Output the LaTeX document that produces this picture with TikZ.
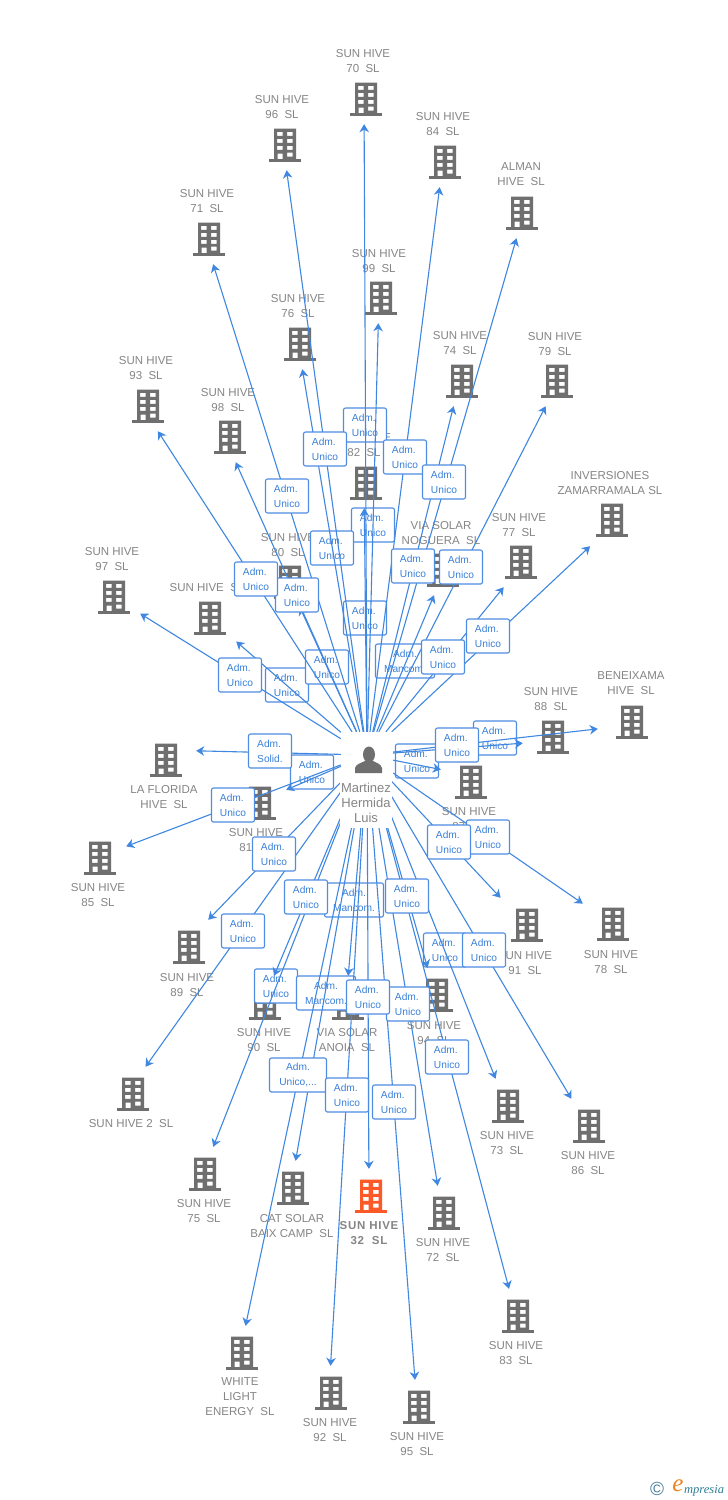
\documentclass[tikz,border=0pt]{standalone}
\usepackage{fontspec}
\setmainfont{Liberation Sans}
\newfontfamily\serifit[Extension=.ttf,ItalicFont=LiberationSerif-Italic]{LiberationSerif-Regular}
\usetikzlibrary{arrows.meta}
\pgfdeclarelayer{bld}\pgfdeclarelayer{lowb}\pgfdeclarelayer{edge}
\pgfsetlayers{bld,lowb,edge,main}
\definecolor{linkblue}{HTML}{3F87E0}
\definecolor{boxline}{HTML}{4F8DE2}
\definecolor{boxtext}{HTML}{3A80DA}
\definecolor{greytext}{HTML}{858585}
\definecolor{bldgrey}{HTML}{6F6F6F}
\definecolor{bldorange}{HTML}{FB5A28}
\definecolor{copyblue}{HTML}{4A7F9A}
\definecolor{emporange}{HTML}{EE8420}
\definecolor{empteal}{HTML}{2F7F96}
\tikzset{
  conn/.style={draw=linkblue,line width=1.1pt,-{Stealth[length=8pt,width=9.5pt,inset=2.5pt]}},
  bldnode/.style={rectangle,minimum width=56pt,minimum height=52pt,inner sep=0pt},
  bldtext/.style={anchor=north,align=center,inner sep=0pt,text=greytext,font=\fontsize{11.5}{15}\selectfont},
  adm/.style={rectangle,rounded corners=2pt,draw=boxline,line width=1.1pt,fill=white,minimum width=43pt,minimum height=34pt,inner sep=0pt,align=left,text=boxtext,font=\fontsize{10.2}{14.7}\selectfont},
  admc/.style={adm,align=center,minimum width=59pt},
  who/.style={rectangle,fill=white,inner sep=0pt,minimum width=52pt},
}
\newcommand\bldgfig[3]{%
  \fill[#3,even odd rule,shift={(#1-11,#2-16.5)}]
    (0,0) rectangle (22,30.7)
    (3,3.3) rectangle (8.5,7.3) (13,3.3) rectangle (18.5,7.3)
    (3,10.4) rectangle (8.5,14.4) (13,10.4) rectangle (18.5,14.4)
    (3,17.3) rectangle (8.5,21.3) (13,17.3) rectangle (18.5,21.3)
    (13,24) rectangle (18.5,28) (3.5,25) rectangle (8.5,30.7);
  \fill[#3,shift={(#1-11,#2-16.5)}] (-5,30.7) rectangle (27,33.2);
}
% name, x, y, label x, label first-line y, label text
\newcommand\bldg[6]{%
  \node[bldnode] (b#1) at (#2-2,#3-1) {};
  \bldgfig{#2}{#3}{bldgrey}
  \node[bldtext] (t#1) at (#4,#5-4.2) {#6};
}
% the same, then the centre of the connector's target and its width
\newcommand\bldgat[9]{%
  \node[bldnode,minimum width=#9pt] (b#1) at (#7,#8) {};
  \bldgfig{#2}{#3}{bldgrey}
  \node[bldtext] (t#1) at (#4,#5-4.2) {#6};
}
\newcommand\lbl[4]{\node[adm] (l#1) at (#2,#3) {#4};}
\newcommand\lblc[4]{\node[admc] (l#1) at (#2,#3) {#4};}
\begin{document}
\begin{tikzpicture}[x=1pt,y=-1pt]
\useasboundingbox (0,0) rectangle (728,1500);
\begin{pgfonlayer}{bld}
\fill[white] (0,0) rectangle (728,1500);
\bldg{70}{366}{99}{363}{53}{SUN HIVE\\70~~SL}
\bldg{96}{285}{145}{282}{99}{SUN HIVE\\96~~SL}
\bldg{84}{445}{162}{443}{116}{SUN HIVE\\84~~SL}
\bldgat{alman}{522}{213}{521}{167}{ALMAN\\HIVE~~SL}{524}{212}{56}
\bldgat{71}{209}{239}{207}{193}{SUN HIVE\\71~~SL}{205}{238}{56}
\bldg{99}{381}{298}{379}{253}{SUN HIVE\\99~~SL}
\bldg{76}{300}{344}{298}{298}{SUN HIVE\\76~~SL}
\bldg{74}{462}{381}{460}{335}{SUN HIVE\\74~~SL}
\bldgat{79}{557}{381}{555}{336}{SUN HIVE\\79~~SL}{559}{380}{56}
\bldgat{93}{148}{406}{146}{360}{SUN HIVE\\93~~SL}{141}{405}{56}
\bldgat{98}{230}{437}{228}{392}{SUN HIVE\\98~~SL}{224}{436}{56}
\bldg{82}{366}{483}{364}{437}{SUN HIVE\\82~~SL}
\bldgat{inv}{612}{520}{610}{475}{INVERSIONES\\ZAMARRAMALA SL}{618}{520}{56}
\bldgat{77}{521}{562}{519}{517}{SUN HIVE\\77~~SL}{525}{561}{56}
\bldgat{via}{443}{570}{441}{525}{VIA SOLAR\\NOGUERA~~SL}{445}{569}{56}
\bldg{80}{290}{582}{288}{537}{SUN HIVE\\80~~SL}
\bldg{sh}{210}{618}{207}{587}{SUN HIVE~~SL}
\bldg{97}{114}{597}{112}{551}{SUN HIVE\\97~~SL}
\bldgat{88}{553}{737}{551}{691}{SUN HIVE\\88~~SL}{551}{741}{56}
\bldgat{ben}{632}{722}{631}{676}{BENEIXAMA\\HIVE~~SL}{632}{725}{68}
\bldgat{flo}{166}{760}{164}{789}{LA FLORIDA\\HIVE~~SL}{164}{750}{64}
\bldgat{87}{471}{782}{469}{811}{SUN HIVE\\87~~SL}{469}{775}{56}
\bldg{81}{260}{803}{256}{832}{SUN HIVE\\81~~SL}
\bldg{85}{100}{858}{98}{887}{SUN HIVE\\85~~SL}
\bldg{91}{527}{925}{525}{955}{SUN HIVE\\91~~SL}
\bldg{78}{613}{924}{611}{954}{SUN HIVE\\78~~SL}
\bldgat{89}{189}{947}{187}{977}{SUN HIVE\\89~~SL}{183}{946}{56}
\bldg{94}{437}{995}{434}{1025}{SUN HIVE\\94~~SL}
\bldg{90}{265}{1003}{264}{1032}{SUN HIVE\\90~~SL}
\bldg{ano}{348}{1003}{347}{1032}{VIA SOLAR\\ANOIA~~SL}
\bldgat{2}{133}{1094}{131}{1123}{SUN HIVE 2~~SL}{127}{1093}{56}
\bldg{73}{508}{1106}{507}{1135}{SUN HIVE\\73~~SL}
\bldg{86}{589}{1126}{588}{1155}{SUN HIVE\\86~~SL}
\bldg{75}{205}{1174}{204}{1203}{SUN HIVE\\75~~SL}
\bldg{cat}{293}{1188}{292}{1218}{CAT SOLAR\\BAIX CAMP~~SL}
\node[bldnode] (b32) at (369,1195) {};
\bldgfig{371}{1196}{bldorange}
\node[bldtext,font=\fontsize{11.5}{15}\selectfont\bfseries\addfontfeature{LetterSpace=6.5}] (t32) at (369,1220.8) {SUN HIVE\\32~~SL};
\bldg{72}{444}{1213}{443}{1242}{SUN HIVE\\72~~SL}
\bldg{83}{518}{1316}{516}{1345}{SUN HIVE\\83~~SL}
\bldg{white}{242}{1353}{240}{1382}{WHITE\\LIGHT\\ENERGY~~SL}
\bldg{92}{331}{1393}{330}{1422}{SUN HIVE\\92~~SL}
\bldg{95}{419}{1407}{417}{1436}{SUN HIVE\\95~~SL}
\end{pgfonlayer}
% boxes that the connectors run across
\begin{pgfonlayer}{lowb}
\lbl{70}{365}{425}{Adm.\\Unico}
\lbl{99}{373}{525}{Adm.\\Unico}
\lbl{76}{332}{548}{Adm.\\Unico}
\lbl{82}{365}{618}{Adm.\\Unico}
\lbl{sh}{287}{685}{Adm.\\Unico}
\lbl{80}{327}{667}{Adm.\\Unico}
\lblc{via}{405}{661}{Adm.\\Mancom.}
\lbl{ben}{495}{738}{Adm.\\Unico}
\lbl{87}{417}{761}{Adm.\\Unico}
\lbl{81}{312}{772}{Adm.\\Unico}
\lblc{ano}{354}{900}{Adm.\\Mancom.}
\lbl{73}{445}{950}{Adm.\\Unico}
\lbl{75}{276}{986}{Adm.\\Unico}
\lblc{cat}{326}{993}{Adm.\\Mancom.}
\end{pgfonlayer}
% person
\node[who,minimum height=46pt] (p) at (367,755) {};
\node[who,minimum height=51pt,text=greytext,align=center,font=\fontsize{13}{15}\selectfont] (ptext) at (366,802.5) {Martinez\\Hermida\\Luis};
\fill[bldgrey] (369,754.5) ellipse (6pt and 8pt);
\fill[bldgrey] (355,773) -- (355,768) .. controls (356,764) and (361,763) .. (365,761) -- (373,761) .. controls (377,763) and (381,764) .. (382,768) -- (382,773) -- cycle;
% boxes on top of the connectors
\lbl{96}{325}{449}{Adm.\\Unico}
\lbl{84}{405}{457}{Adm.\\Unico}
\lbl{alman}{444}{482}{Adm.\\Unico}
\lbl{71}{287}{496}{Adm.\\Unico}
\lbl{74}{413}{566}{Adm.\\Unico}
\lbl{79}{461}{567}{Adm.\\Unico}
\lbl{98}{297}{595}{Adm.\\Unico}
\lbl{93}{256}{579}{Adm.\\Unico}
\lbl{inv}{488}{636}{Adm.\\Unico}
\lbl{77}{443}{657}{Adm.\\Unico}
\lbl{97}{240}{675}{Adm.\\Unico}
\lbl{88}{457}{745}{Adm.\\Unico}
\lbl{flo}{270}{751}{Adm.\\Solid.}
\lbl{85}{233}{805}{Adm.\\Unico}
\lbl{89}{274}{854}{Adm.\\Unico}
\lbl{78}{488}{837}{Adm.\\Unico}
\lbl{91}{449}{842}{Adm.\\Unico}
\lbl{90}{306}{897}{Adm.\\Unico}
\lbl{94}{407}{896}{Adm.\\Unico}
\lbl{2}{243}{931}{Adm.\\Unico}
\lbl{86}{484}{950}{Adm.\\Unico}
\lbl{72}{408}{1004}{Adm.\\Unico}
\lbl{32}{368}{997}{Adm.\\Unico}
\lbl{83}{447}{1057}{Adm.\\Unico}
\node[adm,align=center,minimum width=57pt] (lwhite) at (298,1075) {Adm.\\Unico,...};
\lbl{92}{347}{1095}{Adm.\\Unico}
\lbl{95}{394}{1102}{Adm.\\Unico}
% footer
\node[inner sep=0pt,text=copyblue,font=\fontsize{19}{19}\selectfont] (copy) at (657,1489) {©};
\node[inner sep=0pt,text=emporange,font=\serifit\itshape\fontsize{25}{25}\selectfont] (emp) at (678,1486) {e};
\node[inner sep=0pt,anchor=base west,text=empteal,font=\serifit\itshape\fontsize{12.5}{14}\selectfont] (emp2) at (684,1493) {mpresia};
\begin{pgfonlayer}{edge}
\foreach \n in {70,96,84,alman,71,99,76,74,79,93,98,82,inv,77,via,80,sh,97,ben,88,87,flo,81,85,89,2,90,75,ano,cat,white,92,32,95,72,94,83,73,86,91,78}
  \draw[conn] (p) -- (b\n);
\end{pgfonlayer}
\end{tikzpicture}
\end{document}
